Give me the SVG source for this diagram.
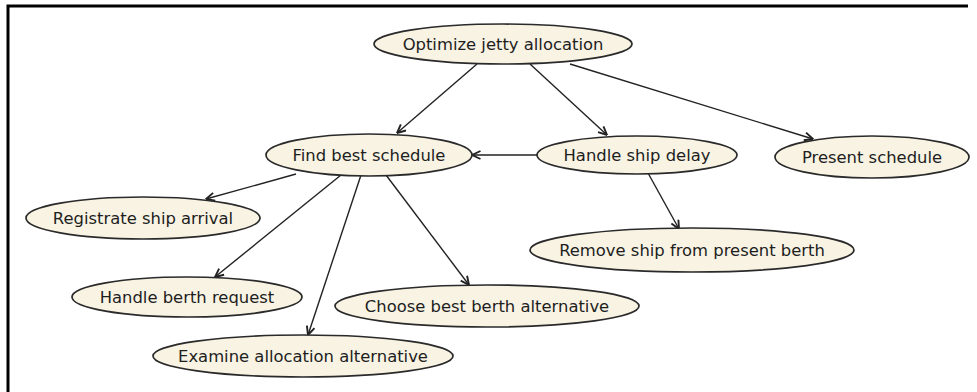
<svg xmlns="http://www.w3.org/2000/svg" width="977" height="392" viewBox="0 0 977 392">
  <style>
    .node ellipse { fill: #f8f3e3; stroke: #2a2a2a; stroke-width: 1.7; }
    .node text { font-family: "DejaVu Sans", Verdana, sans-serif; font-size: 16.4px; fill: #1e1e1e; text-anchor: middle; dominant-baseline: central; }
    .edge { stroke: #222; stroke-width: 1.4; fill: none; marker-end: url(#arrow); }
  </style>
  <defs>
    <marker id="arrow" viewBox="0 0 10 10" refX="9.5" refY="5" markerWidth="10" markerHeight="10" markerUnits="userSpaceOnUse" orient="auto">
      <path d="M1,1 L9.5,5 L1,9" fill="none" stroke="#222" stroke-width="1.9"/>
    </marker>
  </defs>
  <rect width="977" height="392" fill="#ffffff"/>
  <!-- frame: top and left edges -->
  <path d="M8,392 L8,6 L968,6" fill="none" stroke="#000" stroke-width="3"/>

  <g id="connectors">
    <line class="edge" x1="477" y1="64" x2="397" y2="133"/>
    <line class="edge" x1="530" y1="64" x2="607" y2="135"/>
    <line class="edge" x1="570" y1="64" x2="813" y2="139"/>
    <line class="edge" x1="537" y1="155" x2="472" y2="155"/>
    <line class="edge" x1="296" y1="174" x2="206" y2="199"/>
    <line class="edge" x1="341" y1="175" x2="215" y2="277"/>
    <line class="edge" x1="361" y1="175" x2="308" y2="335"/>
    <line class="edge" x1="386" y1="175" x2="469" y2="285"/>
    <line class="edge" x1="648" y1="173" x2="679" y2="229"/>
  </g>

  <g id="optimize-jetty-allocation" class="node">
    <ellipse cx="503" cy="44" rx="129" ry="20"/>
    <text x="503" y="44">Optimize jetty allocation</text>
  </g>
  <g id="find-best-schedule" class="node">
    <ellipse cx="369" cy="155" rx="103" ry="21"/>
    <text x="369" y="155">Find best schedule</text>
  </g>
  <g id="handle-ship-delay" class="node">
    <ellipse cx="637" cy="155" rx="100" ry="19"/>
    <text x="637" y="155">Handle ship delay</text>
  </g>
  <g id="present-schedule" class="node">
    <ellipse cx="872" cy="157" rx="97" ry="21"/>
    <text x="872" y="157">Present schedule</text>
  </g>
  <g id="registrate-ship-arrival" class="node">
    <ellipse cx="143" cy="218" rx="117" ry="21"/>
    <text x="143" y="218">Registrate ship arrival</text>
  </g>
  <g id="remove-ship-from-present-berth" class="node">
    <ellipse cx="692" cy="250" rx="162" ry="22"/>
    <text x="692" y="250">Remove ship from present berth</text>
  </g>
  <g id="handle-berth-request" class="node">
    <ellipse cx="187" cy="297" rx="115" ry="20"/>
    <text x="187" y="297">Handle berth request</text>
  </g>
  <g id="choose-best-berth-alternative" class="node">
    <ellipse cx="487" cy="306" rx="152" ry="21"/>
    <text x="487" y="306">Choose best berth alternative</text>
  </g>
  <g id="examine-allocation-alternative" class="node">
    <ellipse cx="303" cy="356" rx="150" ry="21"/>
    <text x="303" y="356">Examine allocation alternative</text>
  </g>
</svg>
